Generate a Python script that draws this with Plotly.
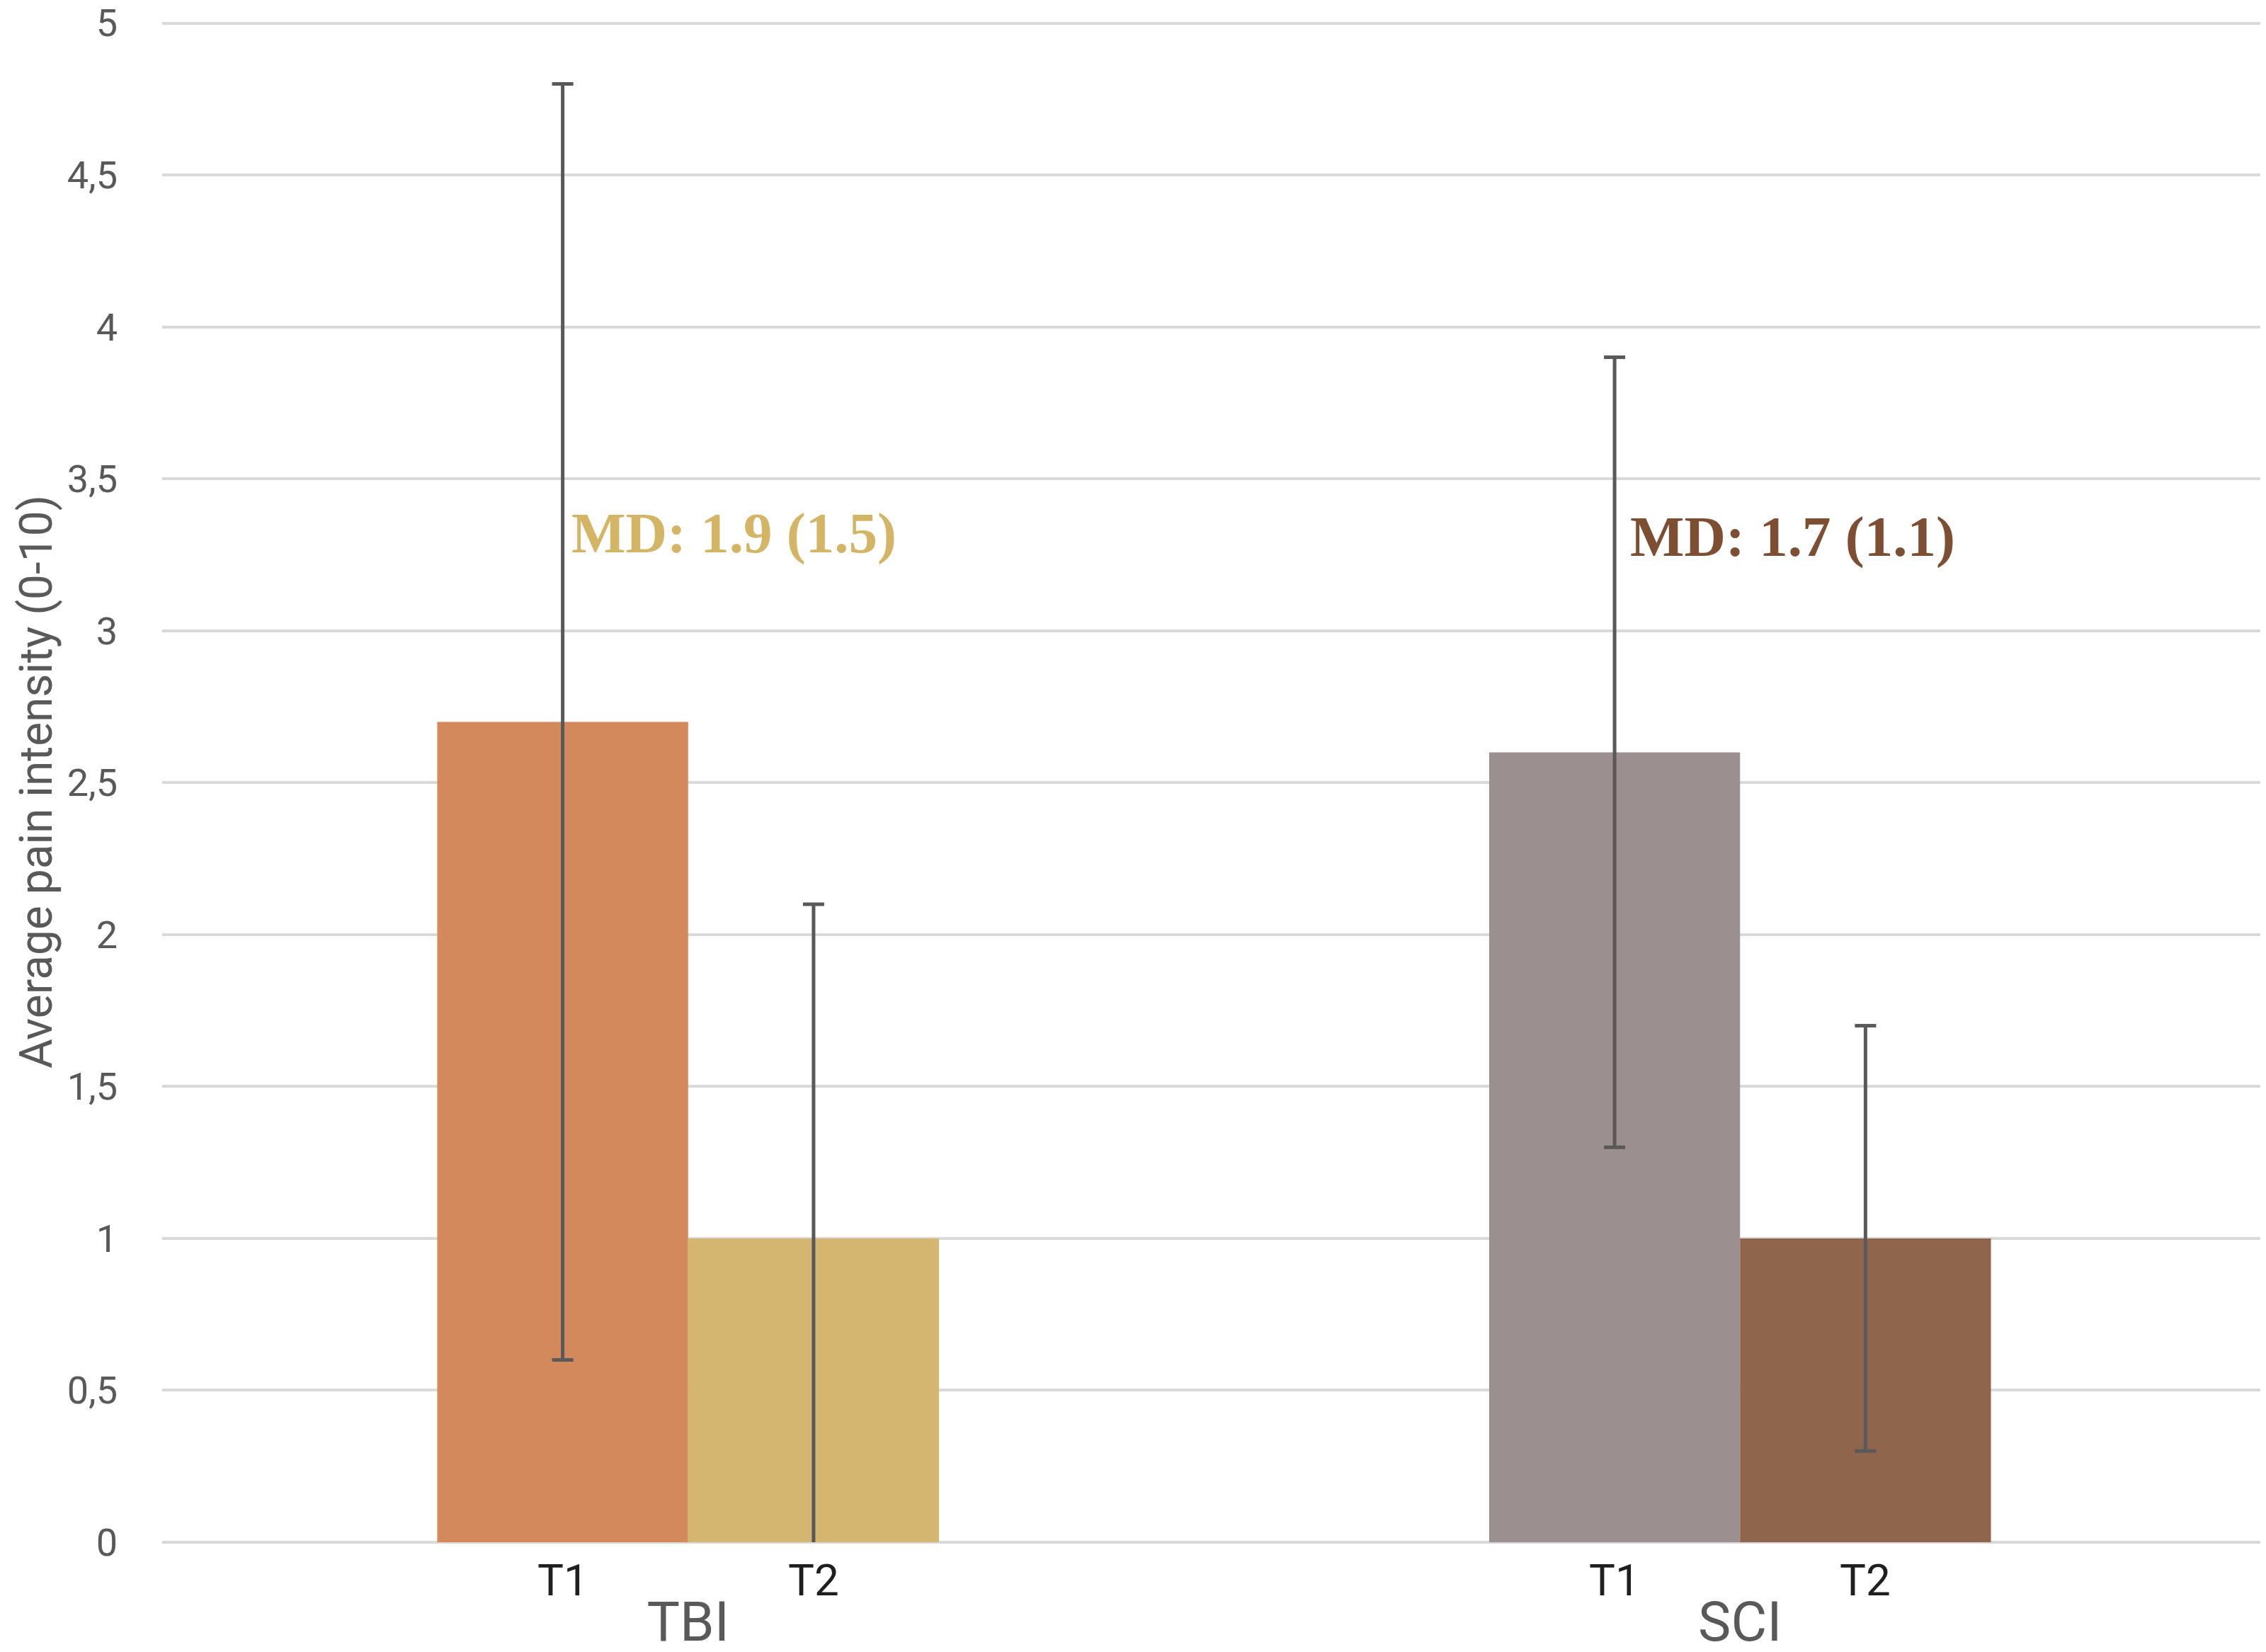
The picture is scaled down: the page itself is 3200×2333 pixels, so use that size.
import plotly.graph_objects as go

groups = ["TBI", "SCI"]
t1_values = [2.7, 2.6]
t2_values = [1.0, 1.0]
t1_err = [2.1, 1.3]
t2_err = [1.1, 0.7]
t1_colors = ["#D4895C", "#9B8F8F"]
t2_colors = ["#D4B670", "#8F664B"]
time_labels = ["T1", "T2"]
md_texts = ["MD: 1.9 (1.5)", "MD: 1.7 (1.1)"]
md_colors = ["#D4B465", "#7E4E33"]
md_y = [3.32, 3.31]
y_ticks = [0, 0.5, 1, 1.5, 2, 2.5, 3, 3.5, 4, 4.5, 5]

BARGAP = 0.523
half = (1 - BARGAP) / 4  # offset of each bar centre from its category centre

fig = go.Figure()
err_style = dict(type="data", symmetric=True, color="#595959", thickness=5, width=15)
fig.add_trace(go.Bar(
    x=groups, y=t1_values, name="T1", offsetgroup="T1",
    marker=dict(color=t1_colors, line=dict(width=0)),
    error_y=dict(array=t1_err, **err_style),
))
fig.add_trace(go.Bar(
    x=groups, y=t2_values, name="T2", offsetgroup="T2",
    marker=dict(color=t2_colors, line=dict(width=0)),
    error_y=dict(array=t2_err, **err_style),
))

md_xshift = [10, 20]
annotations = []
for i, g in enumerate(groups):
    for j, lab in enumerate(time_labels):
        xpos = i + (-half if j == 0 else half)
        annotations.append(dict(
            x=xpos, y=0, xref="x", yref="y", text=lab, showarrow=False,
            yanchor="middle", xanchor="center", yshift=-53,
            font=dict(family="Roboto", size=62, color="#1F1F1F"),
        ))
    annotations.append(dict(
        x=i - half, y=md_y[i], xref="x", yref="y", text="<b>" + md_texts[i] + "</b>",
        showarrow=False, xanchor="left", yanchor="middle", xshift=md_xshift[i],
        font=dict(family="Liberation Serif", size=81, color=md_colors[i]),
    ))

fig.update_layout(
    width=3200, height=2333,
    paper_bgcolor="white", plot_bgcolor="white",
    barmode="group", bargap=BARGAP, bargroupgap=0,
    showlegend=False,
    separators=", ",
    margin=dict(l=221, r=8, t=22, b=163),
    font=dict(family="Roboto", color="#595959"),
    annotations=annotations,
)
fig.update_xaxes(
    type="category", showgrid=False, zeroline=False, showline=False,
    tickfont=dict(size=78, color="#595959"), ticks="", ticklabelstandoff=60,
    automargin=False,
)
fig.update_yaxes(
    range=[0, 5.006], tickvals=y_ticks, showgrid=True, gridcolor="#D9D9D9", gridwidth=4,
    zeroline=True, zerolinecolor="#D9D9D9", zerolinewidth=4, showline=False,
    tickfont=dict(size=54, color="#595959"), ticks="", ticklabelstandoff=62,
    ticklabeloverflow="allow",
    title=dict(text="Average pain intensity (0-10)", font=dict(size=64, color="#595959"), standoff=0),
    automargin=False,
)

fig.write_html("out.html")
